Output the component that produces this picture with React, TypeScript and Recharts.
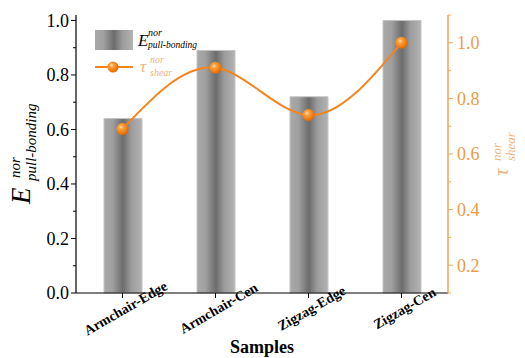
import React from 'react';
import { ComposedChart, Bar, Line, XAxis, YAxis, Legend } from 'recharts';

const categories = ['Armchair-Edge', 'Armchair-Cen', 'Zigzag-Edge', 'Zigzag-Cen'];
const pullBonding = [0.64, 0.89, 0.72, 1.0];
const shear = [0.69, 0.91, 0.74, 1.0];
const leftTicks = [0, 0.1, 0.2, 0.3, 0.4, 0.5, 0.6, 0.7, 0.8, 0.9, 1.0];
const rightTicks = [0.1, 0.2, 0.3, 0.4, 0.5, 0.6, 0.7, 0.8, 0.9, 1.0, 1.1];

const data = categories.map((name, i) => ({ name, pull: pullBonding[i], shear: shear[i] }));

const FONT = 'Liberation Serif, Tinos, Times New Roman, DejaVu Serif, serif';
const ORANGE = '#f5841f';
const AXIS_ORANGE = '#f2a650';
const TICK_ORANGE = '#ee9a45';
const LABEL_ORANGE = '#f2b27c';

const isMajor = (v: number) => Math.round(v * 10) % 2 === 0;

const LeftTick = (props: any) => {
  const { x, y, payload } = props;
  const v = payload.value as number;
  const major = isMajor(v);
  return (
    <g>
      <line x1={x - (major ? 5 : 3)} x2={x} y1={y} y2={y} stroke="#000" strokeWidth={1} />
      {major && (
        <text x={x - 7} y={y} dy="0.35em" textAnchor="end" style={{ fontFamily: FONT, fontSize: 18 }} fill="#000">
          {v.toFixed(1)}
        </text>
      )}
    </g>
  );
};

const RightTick = (props: any) => {
  const { x, y, payload } = props;
  const v = payload.value as number;
  const major = isMajor(v);
  return (
    <g>
      <line x1={x} x2={x + (major ? 5 : 3)} y1={y} y2={y} stroke={AXIS_ORANGE} strokeWidth={1} />
      {major && (
        <text x={x + 9} y={y} dy="0.35em" textAnchor="start" style={{ fontFamily: FONT, fontSize: 18 }} fill={TICK_ORANGE}>
          {v.toFixed(1)}
        </text>
      )}
    </g>
  );
};

const BottomTick = (props: any) => {
  const { x, y, payload } = props;
  return (
    <g transform={`translate(${x + 3},${y + 8}) rotate(-30)`}>
      <text x={0} y={0} dy="0.35em" textAnchor="middle" style={{ fontFamily: FONT, fontSize: 14, fontWeight: 'bold' }} fill="#000">
        {payload.value}
      </text>
    </g>
  );
};

const LeftLabel = (props: any) => {
  const vb = props.viewBox || {};
  const bx = (vb.x ?? 0) + 30;
  const by = (vb.y ?? 15) + (vb.height ?? 278) / 2 + 50;
  return (
    <g transform={`translate(${bx},${by}) rotate(-90)`} style={{ fontFamily: FONT, fontStyle: 'italic' }}>
      <text x={0} y={0} fontSize={27} fill="#000">E</text>
      <text x={26} y={-10} fontSize={15} fill="#000">nor</text>
      <text x={23} y={6} fontSize={15} fill="#000">pull-bonding</text>
    </g>
  );
};

const RightLabel = (props: any) => {
  const vb = props.viewBox || {};
  const bx = (vb.x ?? 448) + 60;
  const by = (vb.y ?? 15) + (vb.height ?? 278) / 2 + 22;
  return (
    <g transform={`translate(${bx},${by}) rotate(-90)`} style={{ fontFamily: FONT, fontStyle: 'italic' }} fill={LABEL_ORANGE}>
      <text x={0} y={0} fontSize={21}>τ</text>
      <text x={15} y={-7} fontSize={13}>nor</text>
      <text x={15} y={7} fontSize={13}>shear</text>
    </g>
  );
};

const Dot = (props: any) => {
  const { cx, cy, index } = props;
  if (cx == null || cy == null) return <g key={`d${index}`} />;
  return <circle key={`d${index}`} cx={cx} cy={cy} r={6} fill="url(#dotGrad)" />;
};

const renderLegend = () => (
  <svg width={150} height={56} style={{ display: 'block', overflow: 'visible' }}>
    <defs>
      <linearGradient id="legBarGrad" x1="0" y1="0" x2="1" y2="0">
        <stop offset="0%" stopColor="#a9a9a9" />
        <stop offset="22%" stopColor="#a0a0a0" />
        <stop offset="50%" stopColor="#6c6c6c" />
        <stop offset="72%" stopColor="#9c9c9c" />
        <stop offset="100%" stopColor="#b3b3b3" />
      </linearGradient>
      <radialGradient id="legDotGrad" cx="38%" cy="35%" r="65%">
        <stop offset="0%" stopColor="#ffe2bf" />
        <stop offset="28%" stopColor="#ffa23f" />
        <stop offset="75%" stopColor="#f27c0a" />
        <stop offset="100%" stopColor="#e06a00" />
      </radialGradient>
    </defs>
    <rect x={0} y={4} width={38} height={20} fill="url(#legBarGrad)" />
    <g style={{ fontFamily: FONT, fontStyle: 'italic' }}>
      <text x={43} y={20} fontSize={17} fill="#000">E</text>
      <text x={53} y={10} fontSize={10} fill="#000">nor</text>
      <text x={53} y={22} fontSize={9.5} fill="#000">pull-bonding</text>
    </g>
    <line x1={0} x2={38} y1={41} y2={41} stroke={ORANGE} strokeWidth={2} />
    <circle cx={18} cy={41} r={5.5} fill="url(#legDotGrad)" />
    <g style={{ fontFamily: FONT, fontStyle: 'italic' }} fill={LABEL_ORANGE}>
      <text x={45} y={46} fontSize={17}>τ</text>
      <text x={55} y={37} fontSize={10}>nor</text>
      <text x={55} y={50} fontSize={10}>shear</text>
    </g>
  </svg>
);

export default function App() {
  return (
    <div style={{ position: 'absolute', left: 0, top: 0, width: 525, height: 358, background: '#fff' }}>
      <ComposedChart width={525} height={358} data={data} margin={{ top: 15, right: 0, bottom: 0, left: 0 }}>
        <defs>
          <linearGradient id="barGrad" x1="0" y1="0" x2="1" y2="0">
            <stop offset="0%" stopColor="#a9a9a9" />
            <stop offset="22%" stopColor="#a0a0a0" />
            <stop offset="50%" stopColor="#6c6c6c" />
            <stop offset="72%" stopColor="#9c9c9c" />
            <stop offset="100%" stopColor="#b3b3b3" />
          </linearGradient>
          <radialGradient id="dotGrad" cx="38%" cy="35%" r="65%">
            <stop offset="0%" stopColor="#ffe2bf" />
            <stop offset="28%" stopColor="#ffa23f" />
            <stop offset="75%" stopColor="#f27c0a" />
            <stop offset="100%" stopColor="#e06a00" />
          </radialGradient>
        </defs>
        <XAxis
          xAxisId="bottom"
          dataKey="name"
          height={65}
          axisLine={{ stroke: '#000', strokeWidth: 1.2 }}
          tickLine={{ stroke: '#000' }}
          tickSize={5}
          tickMargin={2}
          interval={0}
          tick={<BottomTick />}
          label={{ value: 'Samples', position: 'insideBottom', offset: 5, style: { fontFamily: FONT, fontSize: 18, fontWeight: 'bold' }, fill: '#000' }}
        />
        <XAxis
          xAxisId="top"
          dataKey="name"
          orientation="top"
          height={0}
          mirror
          axisLine={{ stroke: '#000', strokeWidth: 1.2 }}
          tickLine={{ stroke: '#000' }}
          tickSize={4}
          interval={0}
          tick={() => <g />}
        />
        <YAxis
          yAxisId="left"
          width={76}
          domain={[0, 1.02]}
          ticks={leftTicks}
          interval={0}
          axisLine={{ stroke: '#000', strokeWidth: 1.2 }}
          tickLine={false}
          tickSize={0}
          tickMargin={0}
          tick={<LeftTick />}
          label={<LeftLabel />}
        />
        <YAxis
          yAxisId="right"
          orientation="right"
          width={77}
          domain={[0.1, 1.1]}
          ticks={rightTicks}
          interval={0}
          axisLine={{ stroke: AXIS_ORANGE, strokeWidth: 1.5 }}
          tickLine={false}
          tickSize={0}
          tickMargin={0}
          tick={<RightTick />}
          label={<RightLabel />}
        />
        <Legend
          layout="vertical"
          align="center"
          verticalAlign="middle"
          content={renderLegend}
          wrapperStyle={{ left: 95, top: 26, width: 150, height: 56 }}
        />
        <Bar
          xAxisId="bottom"
          yAxisId="left"
          dataKey="pull"
          barSize={38}
          fill="url(#barGrad)"
          stroke="#c4c4c4"
          strokeWidth={1}
          isAnimationActive={false}
        />
        <Line
          xAxisId="top"
          yAxisId="right"
          dataKey="shear"
          type="natural"
          stroke={ORANGE}
          strokeWidth={2}
          dot={<Dot />}
          activeDot={false}
          isAnimationActive={false}
        />
      </ComposedChart>
    </div>
  );
}
